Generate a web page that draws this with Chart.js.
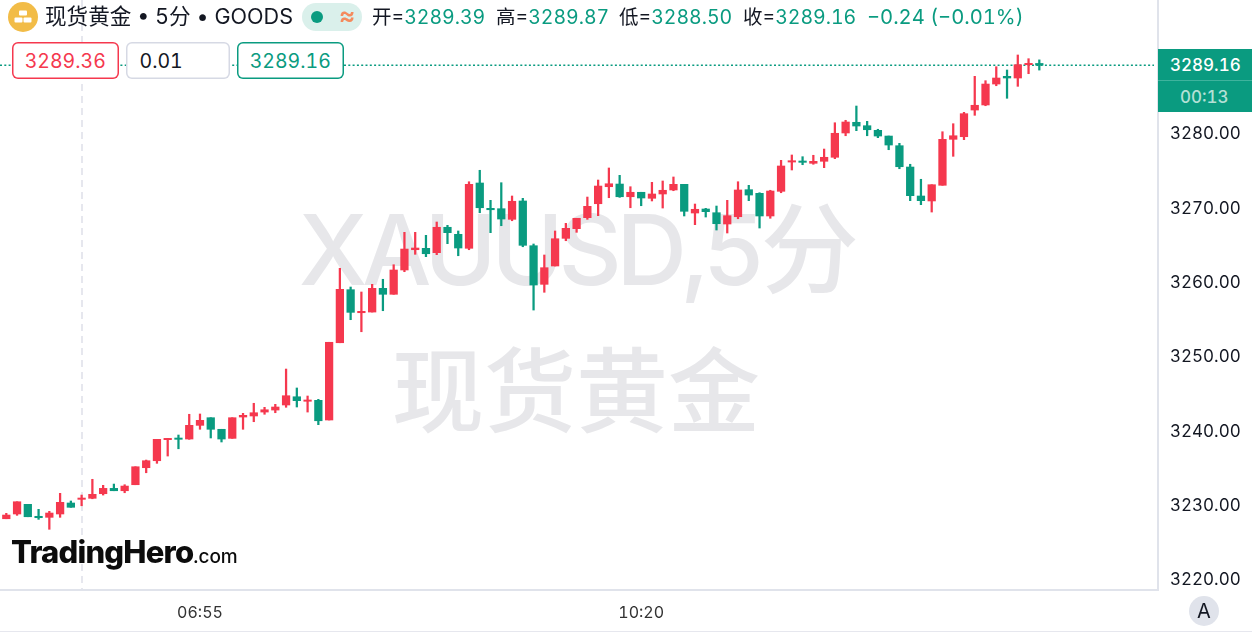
<!DOCTYPE html>
<html>
<head>
<meta charset="utf-8">
<script src="https://cdn.jsdelivr.net/npm/chart.js@4/dist/chart.umd.min.js"></script>
<style>
  html, body { margin: 0; padding: 0; background: #fff; overflow: hidden; }
  #wrap { position: relative; width: 1252px; height: 633px; font-family: Inter, "Noto Sans CJK SC", sans-serif; color: #131722; font-variant-numeric: tabular-nums; }
  #wrap canvas { position: absolute; left: 0; top: 0; z-index: 1; }
  .mark { position: absolute; z-index: 0; left: 0; width: 1158px; text-align: center; color: #e7e7ea; white-space: nowrap; line-height: 1; }
  .t { position: absolute; z-index: 2; white-space: nowrap; line-height: 1; }
  .pill { position: absolute; z-index: 2; top: 41.5px; height: 37.5px; line-height: 39px; background: #fff; border-radius: 6px; font-size: 19.5px; text-align: center; }
  .green { color: #0a9b80; }
</style>
</head>
<body>
<div id="wrap">
  <div class="mark" style="top:201px;left:-3px;font-size:98px;font-weight:500;letter-spacing:-5.4px;">XAUUSD,5分</div>
  <div class="mark" style="top:346px;left:-3px;font-size:92px;font-weight:500;">现货黄金</div>
  <canvas id="myChart" width="1252" height="633"></canvas>

  <svg class="t" style="left:8px;top:2px;" width="30" height="30" viewBox="0 0 30 30">
    <circle cx="15" cy="15" r="15" fill="#f2bc47"/>
    <rect x="11" y="8.5" width="8" height="5" rx="1" fill="#fff"/>
    <rect x="6.5" y="15.5" width="8" height="5" rx="1" fill="#fff"/>
    <rect x="15.5" y="15.5" width="8" height="5" rx="1" fill="#fff"/>
  </svg>
  <div class="t" style="left:45px;top:6px;font-size:21.6px;">现货黄金 • 5分 • GOODS</div>
  <div class="t" style="left:302px;top:3px;width:60px;height:28px;background:#daf0eb;border-radius:14px;"></div>
  <div class="t" style="left:311px;top:11px;width:12px;height:12px;background:#0a9b80;border-radius:50%;"></div>
  <div class="t" style="left:339px;top:3px;font-size:25px;font-weight:600;color:#f58a5c;">≈</div>

  <div class="t" style="left:372px;top:7.5px;font-size:19.5px;">开=<span class="green">3289.39</span></div>
  <div class="t" style="left:496px;top:7.5px;font-size:19.5px;">高=<span class="green">3289.87</span></div>
  <div class="t" style="left:619px;top:7.5px;font-size:19.5px;">低=<span class="green">3288.50</span></div>
  <div class="t" style="left:743px;top:7.5px;font-size:19.5px;">收=<span class="green">3289.16</span></div>
  <div class="t green" style="left:867px;top:7px;font-size:20.2px;">−0.24 (−0.01%)</div>

  <div class="pill" style="left:11.5px;width:107.5px;color:#f5384e;box-shadow:inset 0 0 0 1.5px #f5384e;">3289.36</div>
  <div class="pill" style="left:125.5px;width:104.5px;box-shadow:inset 0 0 0 1.5px #d6d9e4;text-align:left;text-indent:14px;">0.01</div>
  <div class="pill" style="left:236.5px;width:107.5px;color:#0a9b80;box-shadow:inset 0 0 0 1.5px #0a9b80;">3289.16</div>

  <div class="t" style="left:1158px;top:49px;width:94px;height:63px;background:#0a9b80;"></div>
  <div class="t" style="left:1158px;top:80px;width:94px;height:1px;background:#3fb39d;"></div>
  <div class="t" style="left:1170px;top:57px;font-size:17px;font-weight:500;color:#fff;">3289.16</div>
  <div class="t" style="left:1180px;top:89px;font-size:17px;font-weight:500;color:#b4e0d6;">00:13</div>

  <div class="t" style="left:11px;top:536px;font-size:31px;font-weight:800;color:#0c0c0c;letter-spacing:-0.8px;">TradingHero<span style="font-size:19px;font-weight:500;letter-spacing:0;">.com</span></div>

  <div class="t" style="left:1189px;top:596px;width:30px;height:30px;line-height:30px;text-align:center;background:#e0e3eb;border-radius:50%;font-size:20px;">A</div>
  <div class="t" style="left:0;top:631px;width:1252px;height:1px;background:#e6e7ee;"></div>
</div>

<script>
// candle values, one entry per 5 minute bar
let opens = [3228.11, 3228.75, 3230.05, 3228.44, 3228.30, 3228.75, 3230.23, 3230.72, 3230.86, 3231.48,
  3232.20, 3231.88, 3232.69, 3234.98, 3235.92, 3238.75, 3238.93, 3238.84, 3240.68, 3241.71,
  3240.15, 3238.93, 3241.80, 3241.94, 3242.47, 3242.74, 3243.42, 3244.53, 3243.92, 3244.05,
  3241.40, 3251.80, 3258.94, 3255.84, 3255.93, 3259.12, 3258.32, 3261.59, 3264.32, 3264.51,
  3263.92, 3267.34, 3266.39, 3264.51, 3273.30, 3269.89, 3269.84, 3268.41, 3270.88, 3264.86,
  3259.66, 3262.13, 3265.85, 3267.15, 3268.63, 3270.51, 3272.80, 3273.16, 3271.45, 3272.05,
  3271.24, 3271.82, 3272.36, 3273.12, 3269.26, 3269.80, 3269.30, 3267.78, 3268.76, 3272.40,
  3271.91, 3268.86, 3272.18, 3276.12, 3276.26, 3275.95, 3276.22, 3276.76, 3280.03, 3281.47,
  3281.01, 3280.39, 3279.62, 3278.32, 3275.45, 3271.55, 3270.88, 3272.99, 3279.18, 3279.53,
  3283.12, 3283.80, 3286.62, 3287.66, 3287.43, 3289.22, 3289.39];
let highs = [3228.84, 3230.40, 3230.05, 3229.38, 3229.11, 3231.53, 3230.50, 3231.30, 3233.42, 3232.61,
  3232.78, 3232.69, 3235.11, 3236.01, 3238.80, 3238.93, 3239.38, 3242.17, 3242.21, 3241.71,
  3240.15, 3241.71, 3242.30, 3243.65, 3243.11, 3243.51, 3248.26, 3245.71, 3244.63, 3244.18,
  3251.86, 3261.82, 3259.30, 3258.63, 3259.66, 3260.34, 3262.30, 3266.66, 3266.66, 3266.26,
  3268.05, 3267.60, 3266.84, 3273.47, 3275.01, 3270.97, 3273.34, 3271.55, 3271.24, 3265.09,
  3263.61, 3266.84, 3267.87, 3268.55, 3271.41, 3273.70, 3275.32, 3274.33, 3272.80, 3272.05,
  3273.39, 3273.57, 3274.11, 3273.12, 3270.47, 3269.89, 3270.20, 3270.97, 3273.47, 3272.99,
  3271.99, 3272.32, 3276.35, 3277.07, 3276.84, 3277.03, 3277.87, 3281.41, 3281.74, 3283.66,
  3281.60, 3280.53, 3279.62, 3278.64, 3275.82, 3273.80, 3273.07, 3280.20, 3281.28, 3282.81,
  3287.66, 3287.07, 3288.95, 3288.51, 3290.53, 3290.03, 3289.87];
let lows = [3228.11, 3228.57, 3228.38, 3228.03, 3226.69, 3228.30, 3229.65, 3229.86, 3230.80, 3231.30,
  3231.88, 3231.61, 3232.69, 3234.30, 3235.57, 3236.55, 3237.53, 3238.80, 3240.15, 3238.98,
  3238.44, 3238.93, 3240.15, 3241.17, 3242.17, 3242.38, 3243.11, 3243.15, 3242.47, 3240.77,
  3241.40, 3251.80, 3254.90, 3253.28, 3255.93, 3256.11, 3258.32, 3261.36, 3263.70, 3263.38,
  3263.65, 3265.13, 3263.51, 3264.32, 3269.30, 3266.61, 3267.55, 3268.22, 3264.72, 3256.20,
  3258.59, 3262.13, 3265.53, 3266.66, 3268.41, 3268.90, 3271.32, 3271.37, 3269.97, 3270.24,
  3270.88, 3269.93, 3272.26, 3268.86, 3267.69, 3268.72, 3266.97, 3266.57, 3268.49, 3270.92,
  3267.24, 3268.55, 3271.99, 3275.05, 3275.76, 3275.82, 3275.36, 3276.57, 3279.66, 3280.34,
  3279.66, 3279.40, 3277.78, 3275.22, 3270.92, 3270.38, 3269.39, 3272.99, 3276.89, 3279.13,
  3282.41, 3283.70, 3286.39, 3284.70, 3286.31, 3288.01, 3288.50];
let closes = [3228.61, 3230.40, 3228.38, 3228.25, 3228.88, 3230.32, 3229.65, 3230.90, 3231.40, 3232.20,
  3231.88, 3232.51, 3235.11, 3235.92, 3238.80, 3238.93, 3238.80, 3240.68, 3241.36, 3240.15,
  3238.84, 3241.71, 3242.03, 3242.38, 3242.78, 3243.15, 3244.67, 3244.00, 3244.05, 3241.30,
  3251.86, 3258.99, 3255.89, 3256.03, 3259.12, 3258.32, 3261.59, 3264.41, 3264.55, 3263.78,
  3267.34, 3266.61, 3264.55, 3273.12, 3269.97, 3269.70, 3268.45, 3270.84, 3264.91, 3259.57,
  3261.90, 3265.80, 3267.20, 3268.55, 3270.16, 3272.89, 3273.20, 3271.45, 3272.05, 3271.28,
  3271.82, 3272.32, 3273.12, 3269.49, 3269.76, 3269.44, 3267.82, 3268.90, 3272.36, 3271.68,
  3268.86, 3272.22, 3275.59, 3276.30, 3276.08, 3276.22, 3276.76, 3279.99, 3281.51, 3280.97,
  3280.47, 3279.62, 3278.41, 3275.49, 3271.59, 3270.92, 3273.07, 3279.18, 3279.66, 3282.63,
  3283.76, 3286.62, 3287.43, 3287.43, 3289.22, 3289.40, 3289.16];

// price axis ticks, time axis ticks (bar index) and the live price line
let priceTicks = [3220, 3230, 3240, 3250, 3260, 3270, 3280];
let timeTicks = [7, 18, 59];
let timeLabels = ['', '06:55', '10:20'];
let lastPrice = 3289.16;
let sessionBreak = 7;

let upColor = '#f5384e', downColor = '#0a9b80';
let barColor = (ctx) => closes[ctx.dataIndex] >= opens[ctx.dataIndex] ? upColor : downColor;

// dotted line at the current price, behind the candles
let priceLine = {
  id: 'priceLine',
  beforeDatasetsDraw(chart) {
    let g = chart.ctx, y = chart.scales.y.getPixelForValue(lastPrice);
    g.save();
    g.strokeStyle = downColor;
    g.lineWidth = 1.5;
    g.setLineDash([2, 2.3]);
    g.beginPath();
    g.moveTo(0, y);
    g.lineTo(chart.chartArea.right - 4, y);
    g.stroke();
    g.restore();
  }
};

// price labels sit a little under their tick
let nudgeLabels = {
  id: 'nudgeLabels',
  afterLayout(chart) {
    chart.scales.y.getLabelItems(chart.chartArea).forEach((item) => { item.options.translation[1] += 1; });
  }
};

// the labels sit on the very edge of the plot, so no room is kept for them
function noEdgePadding(scale) {
  scale.paddingTop = 0;
  scale.paddingBottom = 0;
  scale.paddingLeft = 0;
  scale.paddingRight = 0;
}

let ctx = document.getElementById('myChart').getContext('2d');
let myChart = new Chart(ctx, {
  type: 'bar',
  data: {
    datasets: [
      {
        label: 'wick',
        data: lows.map((l, i) => ({ x: i, y: [l, highs[i]] })),
        backgroundColor: barColor,
        barThickness: 1.6,
        grouped: false,
        order: 2
      },
      {
        label: 'body',
        data: opens.map((o, i) => ({ x: i, y: [o, closes[i]] })),
        backgroundColor: barColor,
        barThickness: 7.6,
        minBarLength: 1.3,
        grouped: false,
        order: 1
      }
    ]
  },
  plugins: [priceLine, nudgeLabels],
  options: {
    responsive: false,
    animation: false,
    layout: { padding: 0 },
    plugins: { legend: { display: false }, tooltip: { enabled: false } },
    scales: {
      x: {
        type: 'linear',
        offset: false,
        min: -0.585,
        max: 107.03,
        afterFit: (scale) => { scale.height = 43; noEdgePadding(scale); },
        afterBuildTicks: (scale) => { scale.ticks = timeTicks.map((v) => ({ value: v })); },
        border: { color: '#e0e3eb', width: 2, dash: [7, 5] },
        grid: {
          offset: false,
          drawTicks: false,
          lineWidth: 2,
          color: (c) => c.tick && c.tick.value === sessionBreak ? '#e6e7ee' : 'rgba(0,0,0,0)'
        },
        ticks: {
          autoSkip: false,
          maxRotation: 0,
          padding: 14,
          color: '#333',
          font: { family: 'Inter', size: 16 },
          callback: (value, index) => timeLabels[index]
        }
      },
      y: {
        position: 'right',
        min: 3218.52,
        max: 3297.93,
        afterFit: (scale) => { scale.width = 94; noEdgePadding(scale); },
        afterBuildTicks: (scale) => { scale.ticks = priceTicks.map((v) => ({ value: v })); },
        border: { color: '#e0e3eb', width: 2 },
        grid: { display: false, drawTicks: false },
        ticks: {
          padding: 12,
          color: '#131722',
          font: { family: 'Inter', size: 17 },
          callback: (value) => value.toFixed(2)
        }
      }
    }
  }
});
</script>
</body>
</html>
